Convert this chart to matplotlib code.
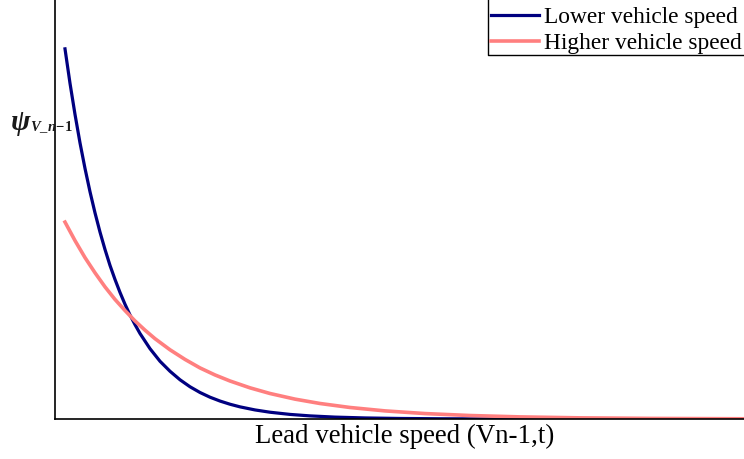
import matplotlib
matplotlib.use("Agg")
import matplotlib.pyplot as plt
from matplotlib.lines import Line2D

# Lead-vehicle speed (arbitrary units) and the resulting psi weight
speed_low = [1.0, 1.5, 2.0, 2.5, 3.0, 3.5, 4.0, 4.5, 5.0, 5.5, 6.0, 6.5, 7.0,
             7.5, 8.0, 8.5, 9.5, 10.5, 11.5, 12.5, 13.5, 14.5, 15.5, 16.5,
             17.5, 18.5, 20.0, 21.5, 23.5, 25.5, 28.0, 31.0, 34.5, 38.5, 43.5,
             50.5, 59.5, 68.9]
psi_low = [1.000, 0.907, 0.823, 0.746, 0.677, 0.614, 0.557, 0.505, 0.458,
           0.415, 0.377, 0.342, 0.310, 0.281, 0.255, 0.231, 0.190, 0.156,
           0.129, 0.106, 0.0871, 0.0716, 0.0589, 0.0485, 0.0399, 0.0328,
           0.0245, 0.0183, 0.0124, 0.0084, 0.0051, 0.00285, 0.00144, 0.00066,
           0.00025, 0.00006, 0.00001, 0.0]

speed_high = [1.0, 2.0, 3.0, 4.0, 5.0, 6.0, 7.0, 8.0, 9.0, 10.0, 11.5, 13.0,
              14.5, 16.0, 17.5, 19.5, 21.5, 24.0, 26.5, 29.5, 33.0, 37.0,
              41.5, 46.5, 52.5, 59.5, 68.9]
psi_high = [0.532, 0.482, 0.436, 0.395, 0.357, 0.323, 0.293, 0.265, 0.240,
            0.217, 0.187, 0.161, 0.138, 0.119, 0.1027, 0.0842, 0.0689,
            0.0537, 0.0419, 0.0311, 0.0219, 0.0147, 0.0094, 0.0057, 0.0031,
            0.0016, 0.0006]

series_labels = ["Lower vehicle speed", "Higher vehicle speed"]
x_label = "Lead vehicle speed (Vn-1,t)"

plt.rcParams["font.family"] = ["Liberation Serif", "DejaVu Serif"]
plt.rcParams["mathtext.fontset"] = "custom"
plt.rcParams["mathtext.rm"] = "Liberation Serif:bold"
plt.rcParams["mathtext.it"] = "Liberation Serif:italic:bold"
plt.rcParams["mathtext.bf"] = "Liberation Serif:bold"

W, H = 744, 459
fig = plt.figure(figsize=(W / 100, H / 100), dpi=100)
ax = fig.add_axes([55 / W, (H - 419) / H, (W - 55) / W, 419 / H])

ax.plot(speed_low, psi_low, color="#000080", lw=2.3, label=series_labels[0])
ax.plot(speed_high, psi_high, color="#ff7f7f", lw=2.6, label=series_labels[1])

ax.set_xlim(0, 68.9)
ax.set_ylim(0, 1.132)
ax.set_xticks([])
ax.set_yticks([])
for side in ("top", "right"):
    ax.spines[side].set_visible(False)
for side in ("left", "bottom"):
    ax.spines[side].set_linewidth(1.2)
    ax.spines[side].set_color("black")

# x-axis title
fig.text(404.5 / W, 16 / H, x_label, fontsize=19.4, ha="center",
         va="baseline")

# y-axis symbol: psi with its subscript
fig.text(11 / W, 1 - 130 / H, "\u03c8", fontsize=21, fontweight="bold",
         fontstyle="italic", ha="left", va="baseline", color="#1a1a1a")
fig.text(30 / W, 1 - 131 / H, r"$V\_n\!-\!1$", fontsize=10.5,
         ha="left", va="baseline", color="#1a1a1a")

# legend box runs off the top-right corner: only its left and bottom edges show
leg = fig.legend(loc="lower left", bbox_to_anchor=(490 / W, 1 - 55 / H),
                 fontsize=16.8, frameon=False,
                 handlelength=2.05, handletextpad=0.2, borderpad=0.05,
                 labelspacing=0.2, borderaxespad=0)
fig.add_artist(Line2D([487.5 / W, 487.5 / W, 1.0], [1.0, 1 - 55 / H, 1 - 55 / H],
                      transform=fig.transFigure, color="black", lw=1.0))

fig.savefig("out.png", dpi=100)
